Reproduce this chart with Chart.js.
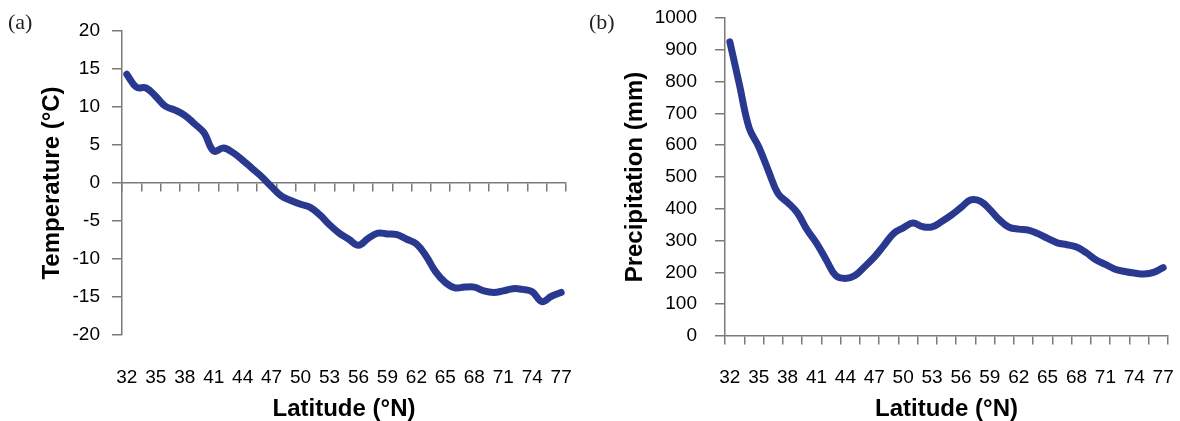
<!DOCTYPE html>
<html>
<head>
<meta charset="utf-8">
<script src="https://cdn.jsdelivr.net/npm/chart.js@4.4.1/dist/chart.umd.min.js"></script>
<style>
body { margin: 0; background: #fff; width: 1180px; height: 421px; overflow: hidden; position: relative; }
.panel { position: absolute; top: 0; width: 590px; height: 421px; }
.tag { position: absolute; font-family: 'Liberation Serif', 'Times New Roman', serif; font-size: 22px; line-height: 22px; color: #222; }
</style>
</head>
<body>
<div class="panel" style="left:0"><canvas id="tempChart"></canvas></div>
<div class="panel" style="left:590px"><canvas id="precChart"></canvas></div>
<div class="tag" style="left:8px;top:11px">(a)</div>
<div class="tag" style="left:589px;top:11px">(b)</div>
<script>
// latitude of each sample, one per degree
const latitudes = [32, 33, 34, 35, 36, 37, 38, 39, 40, 41, 42, 43, 44, 45, 46, 47,
    48, 49, 50, 51, 52, 53, 54, 55, 56, 57, 58, 59, 60, 61, 62, 63,
    64, 65, 66, 67, 68, 69, 70, 71, 72, 73, 74, 75, 76, 77];

// (a) mean temperature, degC
const temperature = [14.3, 12.6, 12.5, 11.4, 10.1, 9.6, 8.9, 7.8, 6.6, 4.2, 4.6, 4.0, 3.0, 1.9, 0.8, -0.5,
    -1.7, -2.3, -2.8, -3.2, -4.2, -5.5, -6.6, -7.4, -8.2, -7.3, -6.6, -6.7, -6.8, -7.4, -8.0, -9.6,
    -11.7, -13.1, -13.8, -13.7, -13.7, -14.2, -14.4, -14.2, -13.9, -14.0, -14.3, -15.6, -14.9, -14.4];

// (b) precipitation, mm
const precipitation = [925, 790, 655, 595, 520, 448, 420, 388, 335, 292, 240, 190, 181, 190, 218, 248,
    285, 322, 340, 355, 344, 343, 360, 380, 404, 428, 424, 398, 365, 342, 336, 333,
    322, 307, 293, 287, 280, 262, 240, 225, 210, 203, 198, 195, 200, 215];

const latLabels = [32, 35, 38, 41, 44, 47, 50, 53, 56, 59, 62, 65, 68, 71, 74, 77];
const latTickMarks = [31.5, 33.5, 35.5, 37.5, 39.5, 41.5, 43.5, 45.5, 47.5, 49.5, 51.5, 53.5,
    55.5, 57.5, 59.5, 61.5, 63.5, 65.5, 67.5, 69.5, 71.5, 73.5, 75.5, 77.5];

const LINE_COLOR = '#2a3990';
const AXIS_COLOR = '#7a7a7a';

Chart.defaults.font.family = "'Liberation Sans', Arial, sans-serif";
Chart.defaults.color = '#000';

function fixedTicks(values) {
    return function (scale) {
        scale.ticks = values.map(v => ({ value: v }));
    };
}

// keep the tick padding from growing the layout margins
function noMargins(s) {
    s.paddingLeft = 0;
    s.paddingRight = 0;
    s.paddingTop = 0;
    s.paddingBottom = 0;
}

function buildConfig(values, yMin, yMax, yStep, yTitle, box) {
    return {
        type: 'line',
        data: {
            datasets: [{
                data: latitudes.map((lat, i) => ({ x: lat, y: values[i] })),
                borderColor: LINE_COLOR,
                backgroundColor: LINE_COLOR,
                borderWidth: 7,
                pointRadius: 0,
                tension: 0.4,
                borderCapStyle: 'round',
                borderJoinStyle: 'round',
                clip: 8
            }]
        },
        options: {
            responsive: true,
            maintainAspectRatio: false,
            animation: false,
            layout: { autoPadding: false, padding: { left: 0, top: box.top, right: box.right, bottom: 0 } },
            plugins: {
                legend: { display: false },
                tooltip: { enabled: false }
            },
            scales: {
                x: {
                    type: 'linear',
                    position: 'bottom',
                    min: 31.5,
                    max: 77.5,
                    afterBuildTicks: fixedTicks(latLabels),
                    afterFit: s => { s.height = box.xHeight; noMargins(s); },
                    grid: { display: false, drawTicks: false },
                    border: { display: false },
                    ticks: {
                        autoSkip: false,
                        maxRotation: 0,
                        padding: box.xPad,
                        font: { size: 19 },
                        callback: v => String(v)
                    },
                    title: {
                        display: true,
                        text: 'Latitude (°N)',
                        font: { size: 24, weight: 'bold', lineHeight: 1 },
                        padding: { top: 0, bottom: 0 }
                    }
                },
                xZero: {
                    axis: 'x',
                    type: 'linear',
                    position: { y: 0 },
                    min: 31.5,
                    max: 77.5,
                    afterBuildTicks: fixedTicks(latTickMarks),
                    afterFit: noMargins,
                    grid: { drawOnChartArea: false, drawTicks: true, tickLength: 8, color: AXIS_COLOR, lineWidth: 1.5 },
                    border: { color: AXIS_COLOR, width: 1.5 },
                    ticks: { display: false }
                },
                y: {
                    position: 'left',
                    min: yMin,
                    max: yMax,
                    afterFit: s => { s.width = box.yWidth; noMargins(s); },
                    grid: { drawOnChartArea: false, drawTicks: true, tickLength: 10, color: AXIS_COLOR, lineWidth: 1.5 },
                    border: { color: AXIS_COLOR, width: 1.5 },
                    ticks: {
                        stepSize: yStep,
                        padding: box.yPad,
                        font: { size: 19 },
                        callback: v => String(v)
                    },
                    title: {
                        display: true,
                        text: yTitle,
                        font: { size: 24, weight: 'bold', lineHeight: 1 },
                        padding: { top: box.titlePad, bottom: 0 }
                    }
                }
            }
        }
    };
}

new Chart(document.getElementById('tempChart'),
    buildConfig(temperature, -20, 20, 5, 'Temperature (°C)',
        { top: 31, right: 24, xHeight: 86, xPad: 31, yWidth: 122, yPad: 12, titlePad: 40 }));

new Chart(document.getElementById('precChart'),
    buildConfig(precipitation, 0, 1000, 100, 'Precipitation (mm)',
        { top: 18, right: 12, xHeight: 85, xPad: 30, yWidth: 135, yPad: 18, titlePad: 33 }));
</script>
</body>
</html>
